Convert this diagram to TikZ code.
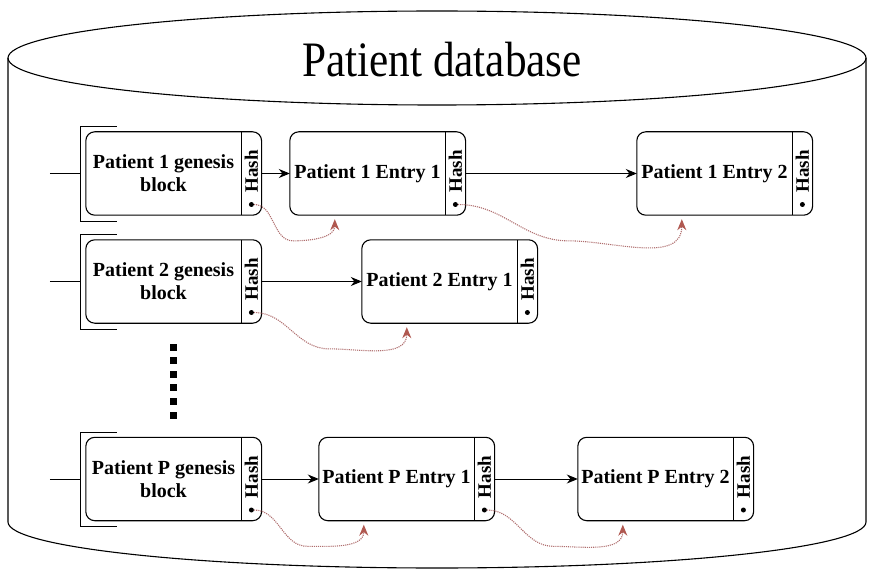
\documentclass[tikz,border=0pt]{standalone}
\usepackage{fontspec}
\setmainfont{Liberation Serif}
\usetikzlibrary{arrows.meta,calc,positioning}
\definecolor{linkred}{RGB}{175,110,110}
\definecolor{tipred}{RGB}{176,88,80}

\begin{document}
\begin{tikzpicture}[x=1pt,y=-1pt,
    every node/.style={inner sep=0pt},
    block/.style={minimum width=155pt,minimum height=83pt,align=center,font=\bfseries\fontsize{20}{23}\selectfont},
    hashpart/.style={minimum width=20pt,minimum height=83pt},
    hashtext/.style={rotate=90,font=\bfseries\fontsize{19}{21}\selectfont},
    dotmark/.style={circle,fill,minimum size=5pt},
    outline/.style={line width=1.1pt,rounded corners=9pt},
    next/.style={line width=1pt,-{Stealth[length=11pt,width=9pt]}},
    link/.style={densely dotted,line width=1.1pt,draw=linkred,-{Stealth[length=11pt,width=9pt,color=tipred]}}
  ]
    \useasboundingbox (0,0) rectangle (869,569);

    % database cylinder
    \draw[line width=1.1pt] (437,58) ellipse [x radius=429, y radius=47];
    \draw[line width=1.1pt] (8,58) -- (8,522) arc[start angle=180, end angle=0, x radius=429, y radius=46] -- (866,58);
    \node[font=\fontsize{42}{48}\selectfont] (title) at (442,60) {\scalebox{1.03}[1.18]{Patient database}};

    \node[block] (g1) at (163.5,173.5) {Patient 1 genesis\\block};
    \node[block] (e11) at (367.5,173.5) {Patient 1 Entry 1};
    \node[block] (e12) at (714.5,173.5) {Patient 1 Entry 2};

    \node[block] (g2) at (163.5,281.5) {Patient 2 genesis\\block};
    \node[block] (e21) at (439.5,281.5) {Patient 2 Entry 1};

    \node[block] (gP) at (163.5,479) {Patient P genesis\\block};
    \node[block] (eP1) at (396.5,479) {Patient P Entry 1};
    \node[block] (eP2) at (655.5,479) {Patient P Entry 2};

    % hash field of every block
    \foreach \blk in {g1,e11,e12,g2,e21,gP,eP1,eP2}{
      \node[hashpart, right=0pt of \blk] (\blk-h) {};
      \node[hashtext] at ([yshift=2pt]\blk-h.center) {Hash};
      \node[dotmark, above=8pt of \blk-h.south] (\blk-d) {};
      \draw[outline] (\blk.north west) rectangle (\blk-h.south east);
      \draw[line width=1.1pt] (\blk-h.north west) -- (\blk-h.south west);
    }

    % brackets on the genesis blocks
    \foreach \g in {g1,g2,gP}{
      \draw[line width=1pt] ($(\g.north west)+(31,-5)$) -| ($(\g.south west)+(-5,6)$) -- ++(36,0);
      \coordinate (\g-in) at ($(\g.west)+(-36,0)$);
      \draw[line width=1pt] (\g-in) -- ($(\g.west)+(-5,0)$);
    }

    % vertical ellipsis
    \foreach \k in {0,...,5}
      \fill (169.5,{343.5+13.6*\k}) rectangle ++(7,7);

    \draw[next] (g1-h) -- (e11);
    \draw[next] (e11-h) -- (e12);
    \draw[next] (g2-h) -- (e21);
    \draw[next] (gP-h) -- (eP1);
    \draw[next] (eP1-h) -- (eP2);

    % hash links
    \foreach \s/\t in {g1/e11,e11/e12,g2/e21,gP/eP1,eP1/eP2}{
      \coordinate (\t-a) at ($(\t.south west)+(45,4)$);
      \coordinate (\s-m) at ($(\s-d)!0.5!(\t-a)+(0,29)$);
      \draw[link] (\s-d) to[out=0,in=180] (\s-m) to[out=0,in=-90] (\t-a);
    }

\end{tikzpicture}
\end{document}
